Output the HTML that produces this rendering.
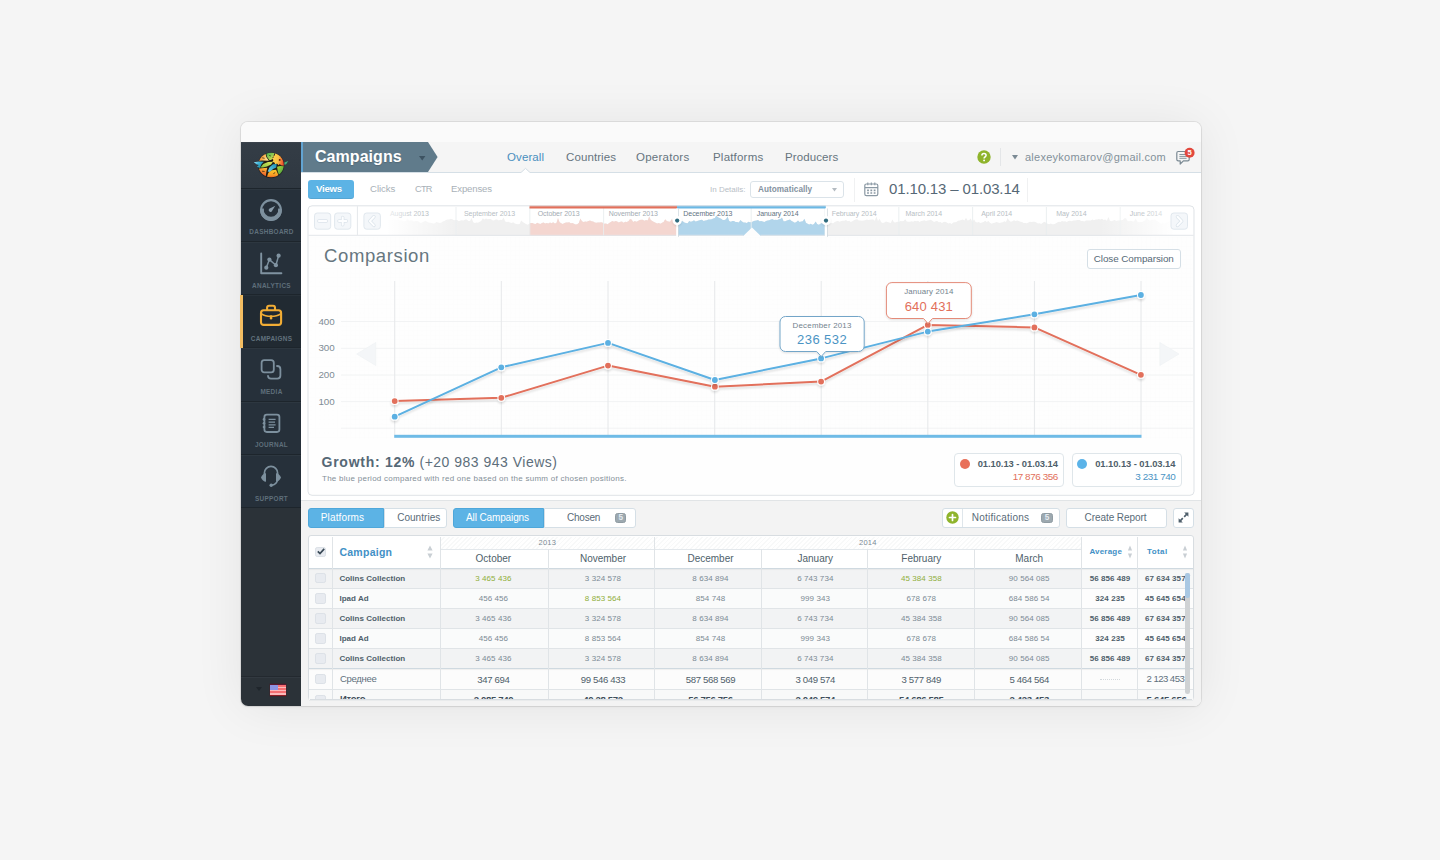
<!DOCTYPE html>
<html>
<head>
<meta charset="utf-8">
<style>
*{box-sizing:border-box;margin:0;padding:0}
html,body{width:1440px;height:860px;overflow:hidden}
body{font-family:"Liberation Sans",sans-serif;background:#f5f5f5;position:relative;color:#5a6b78}
svg{display:block;overflow:visible}
#win{position:absolute;left:241px;top:122px;width:960px;height:584px;background:#fff;border-radius:7px;overflow:hidden;box-shadow:0 0 0 1px rgba(0,0,0,.075),0 1px 3px rgba(0,0,0,.05),0 2px 50px rgba(0,0,0,.075)}
#pg{position:absolute;left:-241px;top:-122px;width:1440px;height:860px}
#pg *{position:absolute;white-space:nowrap}
#pg svg *{position:static}
#titlebar{left:241px;top:122px;width:960px;height:20px;background:#fafafa}
/* sidebar */
#side{left:241px;top:142px;width:60px;height:564px;background:#2b3238}
.cell{left:241px;width:60px;height:53px;background:#26303a;border-bottom:1px solid #1d252c;box-shadow:inset 0 1px 0 rgba(255,255,255,.035)}
.cell .lbl{left:0;width:60px;top:39px;height:9px;line-height:9px;text-align:center;font-size:6.4px;font-weight:bold;letter-spacing:.32px;color:#5f6f7b;text-indent:1px}
/* header */
#hdr{left:301px;top:142px;width:900px;height:31px;background:#f5f5f5;border-bottom:1px solid #d5dfe6}
.nav{top:150px;height:14px;line-height:14px;font-size:11.5px;letter-spacing:.1px;color:#66747e}
.tab{top:182px;height:14px;line-height:14px;font-size:9.6px;color:#a9b1b8}

</style>
</head>
<body>
<div id="win"><div id="pg">
<div id="titlebar"></div>
<div id="side"></div>
<div class="cell" style="top:142px;height:47px;background:linear-gradient(#343d46,#2f3841)">
  <svg width="44" height="34" viewBox="249 148 44 34" style="left:8px;top:6px">
<defs>
<linearGradient id="g1" x1="0" y1="0" x2="1" y2=".3"><stop offset=".12" stop-color="#ee4a2a"/><stop offset=".5" stop-color="#f89a36"/><stop offset="1" stop-color="#fde28f"/></linearGradient>
<linearGradient id="g2" x1="0" y1="0" x2=".8" y2="1"><stop offset="0" stop-color="#27a552"/><stop offset="1" stop-color="#dfe451"/></linearGradient>
<linearGradient id="g3" x1="0" y1="0" x2="1" y2=".2"><stop offset="0" stop-color="#fdd951"/><stop offset=".55" stop-color="#fbc142"/><stop offset="1" stop-color="#ea4a30"/></linearGradient>
<linearGradient id="g4" x1="0" y1="0" x2="1" y2=".6"><stop offset="0" stop-color="#9fe2f8"/><stop offset=".45" stop-color="#43b8dc"/><stop offset="1" stop-color="#178497"/></linearGradient>
<linearGradient id="g5" x1="0" y1="1" x2="1" y2="0"><stop offset="0" stop-color="#7fc242"/><stop offset="1" stop-color="#e6e85c"/></linearGradient>
<linearGradient id="g6" x1="0" y1="1" x2="1" y2="0"><stop offset="0" stop-color="#6fd3ee"/><stop offset="1" stop-color="#1a8db3"/></linearGradient>
<linearGradient id="g7" x1=".6" y1="0" x2=".2" y2="1"><stop offset="0" stop-color="#fbb434"/><stop offset="1" stop-color="#e6412a"/></linearGradient>
<linearGradient id="g8" x1=".5" y1="0" x2=".5" y2="1"><stop offset="0" stop-color="#fdcf2c"/><stop offset=".6" stop-color="#f79a25"/><stop offset="1" stop-color="#d9351f"/></linearGradient>
<linearGradient id="g9" x1="0" y1="0" x2="1" y2="1"><stop offset="0" stop-color="#bcd833"/><stop offset="1" stop-color="#27964a"/></linearGradient>
<clipPath id="ov"><ellipse cx="271.1" cy="165" rx="12.7" ry="12.2"/></clipPath>
</defs>
<ellipse cx="271.1" cy="165.4" rx="13.2" ry="12.8" fill="#1b1a17" fill-opacity=".55"/><ellipse cx="271.1" cy="165.1" rx="12.9" ry="12.4" fill="#201c14"/>
<g clip-path="url(#ov)">
<path d="M257 161 L257.5 157 L260 153.5 L265 151.8 L265.5 153.5 L266.3 157 L268.9 160.8 L262 160.6Z" fill="url(#g1)"/>
<path d="M265.9 152 L270 151.4 L275 152.4 L273.3 156 L271.6 159.8 L269.6 160.3 L267.1 157Z" fill="url(#g2)"/>
<path d="M275 152.3 L279 153.4 L283 156 L285 160 L285 166 L283.6 165.7 L281 165.3 L279.8 163.9 L278.6 165.3 L277 163.6 L275.4 164.5 L274.4 162.4 L272.4 161.8 L273.5 160 L271.9 158.6 L273.7 157.6 L273.1 155.8 L274.9 155.6Z" fill="url(#g3)"/>
<path d="M260.4 167.6 L263.3 163.9 L268 162 L272.9 161.7 L271.1 164.5 L267 166.5 L263 167.6Z" fill="url(#g5)"/>
<path d="M267.7 171.6 L269.5 167.3 L273 164.3 L276.7 163.9 L276.3 167.6 L273 169.1 L270 172Z" fill="url(#g6)"/>
<path d="M257 168.8 L262 168.3 L267.3 167.7 L266.5 171 L265.7 176.5 L261 176 L257.5 172Z" fill="url(#g7)"/>
<path d="M266.7 177.5 L268.4 172.7 L272 170.3 L276.1 169.7 L277.3 172.5 L278.6 175.6 L276 178.5 L270 179Z" fill="url(#g8)"/>
<path d="M277.1 166.7 L280 165.9 L284.5 166.4 L284 171 L281 174.6 L278.7 174.3 L277.7 171Z" fill="url(#g9)"/>
</g>
<path d="M253.9 162.2 L259 161.4 L263.9 161.8 L261.6 164.1 L259.9 167.9 L257 166.8 L258.8 164.9 L256.4 164.2Z" fill="url(#g4)"/>
<path d="M284.4 162.5 L288.3 160.9 L286.1 164.2 L284.5 164.7Z" fill="#43b07c"/>
<circle cx="279.7" cy="159.9" r=".95" fill="#5a1e0a"/>
<path d="M262.2 157.8l2.4.5 M262 171.2l2.6.3 M273.4 173.6l1.8-1 M269.2 155.4l1.6.6" stroke="#201c14" stroke-width=".7"/>
</svg>
</div>
<div class="cell" style="top:189px">
  <svg width="24" height="24" viewBox="0 0 24 24" style="left:18.2px;top:9.2px">
    <circle cx="12" cy="12" r="9.8" fill="none" stroke="#7d909e" stroke-width="2.2"/>
    <path d="M1.15 11 A10.9 10.9 0 1 0 22.85 11 L19.1 10.4 A7.2 7.2 0 1 1 4.9 10.4Z" fill="#7d909e"/>
    <path d="M16.3 7.7 L12.72 13.43 A1.8 1.8 0 1 1 10.28 10.77Z" fill="#8a9caa"/>
  </svg>
  <div class="lbl" style="top:38px">DASHBOARD</div>
</div>
<div class="cell" style="top:242px">
  <svg width="24" height="24" viewBox="0 0 24 24" style="left:18px;top:9.5px">
    <path d="M2.2 1.5 V21.2 H22.4" fill="none" stroke="#8093a1" stroke-width="1.9" stroke-linecap="round" stroke-linejoin="round"/>
    <path d="M7.3 15.7 L10.4 7.6 L16.9 13.2 L19.6 3.7" fill="none" stroke="#7d909e" stroke-width="1.5"/>
    <circle cx="7.3" cy="15.7" r="2.1" fill="#8093a1"/><circle cx="10.4" cy="7.6" r="2.1" fill="#8093a1"/><circle cx="16.9" cy="13.2" r="2.1" fill="#8093a1"/><circle cx="19.6" cy="3.7" r="2.1" fill="#8093a1"/>
  </svg>
  <div class="lbl">ANALYTICS</div>
</div>
<div class="cell" style="top:295px;background:#212a32">
  <svg width="24" height="23" viewBox="0 0 24 23" style="left:18px;top:9px">
    <rect x="2" y="6.3" width="20.1" height="14.6" rx="2.6" fill="none" stroke="#f2ad35" stroke-width="2.1"/>
    <path d="M8.1 6.2 V3.8 Q8.1 1.8 10.1 1.8 H14 Q16 1.8 16 3.8 V6.2" fill="none" stroke="#f2ad35" stroke-width="2.1"/>
    <path d="M2.6 9.8 C7 13.2 17 13.2 21.6 9.8" fill="none" stroke="#f2ad35" stroke-width="1.5"/>
    <rect x="10.8" y="11.2" width="2.5" height="4.2" rx="1.2" fill="#f2ad35"/>
  </svg>
  <div class="lbl" style="color:#62727e">CAMPAIGNS</div>
</div>
<div class="cell" style="top:348px;height:54px">
  <svg width="24" height="24" viewBox="0 0 24 24" style="left:18px;top:9px">
    <rect x="2.6" y="3.2" width="12.2" height="12.2" rx="2.6" fill="none" stroke="#7d909e" stroke-width="1.8"/>
    <path d="M18 9 Q21.4 9 21.4 12.2 V18.6 Q21.4 21.6 18.4 21.6 H12 Q9 21.6 9 18.8" fill="none" stroke="#7d909e" stroke-width="1.8" stroke-linecap="round"/>
  </svg>
  <div class="lbl" style="top:39px">MEDIA</div>
</div>
<div class="cell" style="top:402px">
  <svg width="24" height="24" viewBox="0 0 24 24" style="left:18px;top:9px">
    <rect x="5.4" y="3.6" width="15" height="17.4" rx="2.4" fill="none" stroke="#7d909e" stroke-width="1.8"/>
    <path d="M9.6 8.4 H16.6 M9.6 11.2 H16 M9.6 13.8 H16.6 M9.6 16.4 H15" stroke="#7d909e" stroke-width="1.2"/>
    <circle cx="5" cy="8.4" r="1.3" fill="#7d909e"/><circle cx="5" cy="12.2" r="1.3" fill="#7d909e"/><circle cx="5" cy="16" r="1.3" fill="#7d909e"/>
  </svg>
  <div class="lbl" style="top:38px">JOURNAL</div>
</div>
<div class="cell" style="top:455px">
  <svg width="24" height="26" viewBox="0 0 24 26" style="left:18px;top:8px">
    <path d="M5.4 12.6 V10 A6.6 6.6 0 0 1 18.6 10 V12.6" fill="none" stroke="#7d909e" stroke-width="1.7"/>
    <path d="M7 10.2 V18.8 Q3.6 18.6 2 14.5 Q3.6 10.4 7 10.2Z" fill="#7d909e"/>
    <path d="M17 10.2 V18.8 Q20.4 18.6 22 14.5 Q20.4 10.4 17 10.2Z" fill="#7d909e"/>
    <path d="M18.4 17.5 Q17.4 21.6 12.6 22.2" fill="none" stroke="#7d909e" stroke-width="1.4"/>
    <circle cx="12.2" cy="22.2" r="1.7" fill="#7d909e"/>
  </svg>
  <div class="lbl">SUPPORT</div>
</div>
<div style="left:241px;top:676px;width:60px;height:1px;background:#23292f"></div>
<div style="left:241px;top:677px;width:60px;height:1px;background:#323940"></div>
<svg width="6" height="4" viewBox="0 0 6 4" style="left:256px;top:687px"><path d="M0 0H6L3 4Z" fill="#1f252b"/></svg>
<div style="left:270px;top:684px;width:16.4px;height:12px;background:repeating-linear-gradient(#f56f72 0,#f56f72 1.6px,#fbb9b9 1.6px,#fbb9b9 3.2px);border-top:1px solid #5b1830;border-bottom:1px solid #8c1d24;box-shadow:0 0 0 .4px rgba(90,16,24,.6)">
  <div style="left:0;top:0;width:7.6px;height:5px;background:#8d93e2"></div>
</div>

<div id="hdr"></div>
<svg width="140" height="30" viewBox="0 0 140 30" style="left:301px;top:142px">
  <path d="M0 0 H127 L136.6 15 L127 30 H0Z" fill="#607b8b"/>
  <rect x="0" y="0" width="2" height="30" fill="#62a4d2"/>
  <path d="M118 14 H124.4 L121.2 18.4Z" fill="#3d5362"/>
</svg>
<div style="left:315px;top:147px;height:20px;line-height:20px;font-size:16px;font-weight:bold;color:#fff;letter-spacing:.05px;text-shadow:0 1px 1px rgba(0,0,0,.15)">Campaigns</div>
<div class="nav" style="left:507px;color:#4a8fbe">Overall</div>
<div class="nav" style="left:566px">Countries</div>
<div class="nav" style="left:636px;letter-spacing:.25px">Operators</div>
<div class="nav" style="left:713px;letter-spacing:.2px">Platforms</div>
<div class="nav" style="left:785px">Producers</div>
<svg width="9" height="5" viewBox="0 0 9 5" style="left:520.5px;top:168px"><path d="M0 4.5 L4.5 .4 L9 4.5" fill="#fff" stroke="#d4dee5" stroke-width="1"/><rect x="0.6" y="4.1" width="7.8" height="1.2" fill="#fff"/></svg>
<!-- help -->
<svg width="14" height="14" viewBox="0 0 14 14" style="left:976.6px;top:150px"><circle cx="7" cy="7" r="6.7" fill="#8fb42c"/><path d="M4.9 5.6 Q4.9 3.5 7 3.5 Q9.1 3.5 9.1 5.3 Q9.1 6.4 8 7 Q7.1 7.5 7.1 8.5" fill="none" stroke="#fff" stroke-width="1.5"/><circle cx="7.1" cy="10.4" r=".95" fill="#fff"/></svg>
<div style="left:1000px;top:148px;width:1px;height:18px;background:#e4e6e8"></div>
<svg width="6" height="5" viewBox="0 0 6 5" style="left:1012px;top:155px"><path d="M0 0H6L3 4.6Z" fill="#7b8a94"/></svg>
<div class="nav" style="left:1025px;color:#83919a;letter-spacing:.25px;font-size:11px">alexeykomarov@gmail.com</div>
<svg width="16" height="16" viewBox="0 0 16 16" style="left:1176px;top:150px">
  <path d="M2.2 1.5 H11.8 Q13.2 1.5 13.2 2.9 V9.4 Q13.2 10.8 11.8 10.8 H7.4 L4.2 14 V10.8 H2.2 Q.8 10.8 .8 9.4 V2.9 Q.8 1.5 2.2 1.5Z" fill="none" stroke="#7b8a94" stroke-width="1.2" stroke-linejoin="round"/>
  <path d="M3.4 4.5 H10.6 M3.4 6.4 H10.6 M3.4 8.3 H10.6" stroke="#7b8a94" stroke-width=".9"/>
  <circle cx="13.6" cy="2.8" r="5" fill="#e2483d"/>
</svg>
<div style="left:1184.6px;top:148.9px;width:10px;height:8px;line-height:8px;text-align:center;font-size:7.6px;font-weight:bold;color:#fff">5</div>

<div style="left:308px;top:180px;width:46px;height:19px;border-radius:3px;background:#5cb3e5;box-shadow:inset 0 -1px 0 rgba(0,0,0,.08)"></div>
<div class="tab" style="left:316px;color:#fff;font-weight:bold;letter-spacing:-.25px;text-shadow:0 1px 0 rgba(0,0,0,.1)">Views</div>
<div class="tab" style="left:370px;letter-spacing:-.05px">Clicks</div>
<div class="tab" style="left:415px;font-size:9.2px;letter-spacing:-.75px">CTR</div>
<div class="tab" style="left:451px;letter-spacing:-.15px">Expenses</div>
<div style="left:710px;top:184px;height:12px;line-height:12px;font-size:8px;color:#b9c0c6">In Details:</div>
<div style="left:750px;top:181px;width:94px;height:17px;border:1px solid #dbe3e9;border-radius:3px;background:#fff"></div>
<div style="left:758px;top:184px;height:12px;line-height:12px;font-size:8.2px;font-weight:bold;color:#8492a0;letter-spacing:.04px">Automatically</div>
<svg width="5" height="4" viewBox="0 0 5 4" style="left:832px;top:188px"><path d="M0 0H5L2.5 3.6Z" fill="#b4bbc1"/></svg>
<div style="left:854px;top:178px;width:1px;height:24px;background:#f0f1f2"></div>
<div style="left:1027px;top:178px;width:1px;height:24px;background:#f0f1f2"></div>
<svg width="15" height="15" viewBox="0 0 15 15" style="left:864px;top:182px">
  <rect x=".8" y="2" width="13" height="11.6" rx="1.6" fill="none" stroke="#8a98a3" stroke-width="1.2"/>
  <path d="M1 5.6 H14" stroke="#8a98a3" stroke-width="1.1"/>
  <path d="M3.8 .4 V3.2 M7.3 .4 V3.2 M10.8 .4 V3.2" stroke="#8a98a3" stroke-width="1.1"/>
  <path d="M3.1 7.6h1.8v1.6h-1.8z M6.4 7.6h1.8v1.6h-1.8z M9.7 7.6h1.8v1.6h-1.8z M3.1 10.2h1.8v1.6h-1.8z M6.4 10.2h1.8v1.6h-1.8z M9.7 10.2h1.8v1.6h-1.8z" fill="#8a98a3"/>
</svg>
<div style="left:889px;top:179px;height:20px;line-height:20px;font-size:15px;color:#566876;letter-spacing:-.14px">01.10.13 – 01.03.14</div>

<div id="panel" style="left:308px;top:206px;width:886px;height:289px;background:#fefefe;border-radius:4px"></div>
<svg width="1440" height="860" viewBox="0 0 1440 860" style="left:0;top:0">
<defs>
<pattern id="grid" x="341.6" y="281.5" width="4.443" height="4.443" patternUnits="userSpaceOnUse"><path d="M0 0H4.443M0 0V4.443" fill="none" stroke="#000" stroke-opacity=".013" stroke-width=".7"/></pattern>
<linearGradient id="fadeL" x1="0" x2="1" y1="0" y2="0"><stop offset="0" stop-color="#fff" stop-opacity="1"/><stop offset=".08" stop-color="#fff" stop-opacity="1"/><stop offset="1" stop-color="#fff" stop-opacity="0"/></linearGradient>
<linearGradient id="fadeR" x1="0" x2="1" y1="0" y2="0"><stop offset="0" stop-color="#fff" stop-opacity="0"/><stop offset=".8" stop-color="#fff" stop-opacity="1"/><stop offset="1" stop-color="#fff" stop-opacity="1"/></linearGradient>
<filter id="ls" x="-5%" y="-20%" width="110%" height="150%"><feGaussianBlur in="SourceAlpha" stdDeviation="1"/><feOffset dy="2.2"/><feComponentTransfer><feFuncA type="linear" slope=".13"/></feComponentTransfer><feMerge><feMergeNode/><feMergeNode in="SourceGraphic"/></feMerge></filter>
<filter id="ts" x="-10%" y="-10%" width="120%" height="140%"><feGaussianBlur in="SourceAlpha" stdDeviation="1.2"/><feOffset dy="1"/><feComponentTransfer><feFuncA type="linear" slope=".12"/></feComponentTransfer><feMerge><feMergeNode/><feMergeNode in="SourceGraphic"/></feMerge></filter>
<clipPath id="cpRed"><rect x="529.5" y="206" width="147.5" height="30"/></clipPath>
<clipPath id="cpBlue"><rect x="677" y="206" width="148.5" height="30"/></clipPath>
<clipPath id="cpTl"><rect x="309" y="207" width="884" height="29"/></clipPath>
</defs>
<rect x="309" y="207" width="884" height="29" fill="#fff"/>
<g clip-path="url(#cpTl)">
<path d="M382 236 L382.0 220.7 L383.6 221.2 L385.2 221.4 L386.8 220.5 L388.4 219.6 L390.0 218.9 L391.6 219.1 L393.2 218.6 L394.8 219.3 L396.4 219.8 L398.0 217.5 L399.6 220.8 L401.2 220.0 L402.8 221.0 L404.4 221.3 L406.0 221.1 L407.6 218.2 L409.2 220.8 L410.8 220.5 L412.4 220.6 L414.0 221.5 L415.6 220.9 L417.2 221.1 L418.8 221.7 L420.4 222.9 L422.0 222.6 L423.6 221.7 L425.2 220.7 L426.8 221.5 L428.4 222.4 L430.0 222.8 L431.6 222.9 L433.2 223.5 L434.8 223.3 L436.4 222.1 L438.0 222.5 L439.6 223.1 L441.2 222.7 L442.8 221.6 L444.4 220.9 L446.0 220.0 L447.6 219.4 L449.2 219.4 L450.8 218.8 L452.4 219.3 L454.0 220.3 L455.6 220.0 L457.2 219.9 L458.8 221.2 L460.4 220.6 L462.0 220.2 L463.6 220.6 L465.2 219.6 L466.8 219.6 L468.4 220.9 L470.0 221.1 L471.6 217.9 L473.2 222.3 L474.8 222.9 L476.4 222.6 L478.0 222.8 L479.6 221.7 L481.2 221.0 L482.8 218.2 L484.4 219.4 L486.0 218.6 L487.6 219.3 L489.2 219.1 L490.8 219.1 L492.4 220.2 L494.0 220.4 L495.6 219.6 L497.2 219.6 L498.8 220.6 L500.4 219.7 L502.0 220.0 L503.6 217.5 L505.2 221.6 L506.8 222.1 L508.4 221.8 L510.0 222.5 L511.6 223.0 L513.2 222.3 L514.8 223.4 L516.4 223.9 L518.0 224.2 L519.6 224.0 L521.2 220.5 L522.8 222.0 L524.4 223.1 L526.0 224.0 L527.6 224.8 L529.2 223.8 L530.8 222.9 L532.4 223.1 L534.0 223.7 L535.6 223.9 L537.2 222.7 L538.8 223.5 L540.4 223.9 L542.0 223.0 L543.6 222.5 L545.2 223.5 L546.8 223.1 L548.4 223.5 L550.0 222.4 L551.6 223.3 L553.2 222.3 L554.8 223.4 L556.4 222.9 L558.0 218.0 L559.6 222.3 L561.2 223.2 L562.8 223.9 L564.4 223.1 L566.0 222.5 L567.6 222.6 L569.2 222.3 L570.8 223.2 L572.4 223.0 L574.0 223.8 L575.6 224.5 L577.2 224.3 L578.8 222.9 L580.4 218.6 L582.0 221.3 L583.6 221.9 L585.2 221.5 L586.8 221.7 L588.4 220.9 L590.0 220.4 L591.6 221.2 L593.2 221.5 L594.8 222.5 L596.4 222.7 L598.0 222.6 L599.6 222.4 L601.2 222.3 L602.8 222.7 L604.4 223.7 L606.0 223.6 L607.6 224.2 L609.2 223.1 L610.8 222.0 L612.4 221.0 L614.0 221.8 L615.6 221.0 L617.2 221.5 L618.8 222.4 L620.4 221.7 L622.0 221.5 L623.6 222.7 L625.2 221.8 L626.8 221.9 L628.4 221.2 L630.0 218.9 L631.6 219.4 L633.2 222.0 L634.8 221.0 L636.4 221.8 L638.0 220.9 L639.6 220.0 L641.2 219.7 L642.8 219.8 L644.4 220.8 L646.0 220.1 L647.6 220.5 L649.2 216.5 L650.8 219.9 L652.4 221.1 L654.0 221.9 L655.6 222.7 L657.2 223.5 L658.8 222.9 L660.4 223.8 L662.0 222.7 L663.6 222.0 L665.2 219.3 L666.8 220.9 L668.4 221.6 L670.0 221.7 L671.6 219.3 L673.2 220.3 L674.8 220.7 L676.4 220.8 L678.0 220.0 L679.6 220.1 L681.2 221.1 L682.8 221.2 L684.4 222.4 L686.0 223.1 L687.6 223.3 L689.2 221.0 L690.8 221.7 L692.4 221.2 L694.0 220.3 L695.6 221.4 L697.2 221.0 L698.8 220.6 L700.4 220.0 L702.0 219.7 L703.6 221.1 L705.2 220.6 L706.8 220.3 L708.4 219.4 L710.0 219.6 L711.6 219.2 L713.2 218.4 L714.8 217.9 L716.4 215.5 L718.0 217.3 L719.6 217.9 L721.2 218.8 L722.8 220.0 L724.4 219.9 L726.0 219.3 L727.6 216.4 L729.2 221.1 L730.8 221.8 L732.4 221.0 L734.0 221.1 L735.6 221.9 L737.2 222.1 L738.8 222.5 L740.4 220.0 L742.0 221.5 L743.6 222.4 L745.2 222.6 L746.8 222.9 L748.4 221.7 L750.0 222.3 L751.6 222.3 L753.2 221.3 L754.8 220.8 L756.4 220.4 L758.0 219.9 L759.6 221.3 L761.2 221.1 L762.8 221.6 L764.4 221.9 L766.0 221.0 L767.6 220.5 L769.2 220.3 L770.8 219.4 L772.4 219.1 L774.0 219.9 L775.6 219.7 L777.2 219.9 L778.8 219.3 L780.4 218.9 L782.0 217.6 L783.6 221.2 L785.2 221.2 L786.8 220.6 L788.4 220.1 L790.0 219.5 L791.6 220.9 L793.2 221.7 L794.8 222.7 L796.4 222.0 L798.0 220.4 L799.6 221.9 L801.2 221.5 L802.8 221.2 L804.4 218.7 L806.0 222.8 L807.6 223.7 L809.2 224.4 L810.8 223.8 L812.4 224.8 L814.0 224.1 L815.6 221.6 L817.2 223.9 L818.8 224.7 L820.4 223.8 L822.0 222.9 L823.6 223.9 L825.2 224.3 L826.8 225.0 L828.4 224.8 L830.0 223.4 L831.6 223.1 L833.2 223.3 L834.8 222.1 L836.4 221.3 L838.0 221.0 L839.6 221.7 L841.2 221.1 L842.8 220.8 L844.4 220.7 L846.0 220.1 L847.6 221.2 L849.2 220.7 L850.8 222.0 L852.4 221.2 L854.0 220.3 L855.6 219.6 L857.2 219.3 L858.8 220.5 L860.4 220.5 L862.0 220.7 L863.6 220.5 L865.2 220.2 L866.8 219.6 L868.4 220.1 L870.0 219.7 L871.6 219.4 L873.2 219.6 L874.8 220.7 L876.4 216.5 L878.0 220.9 L879.6 218.8 L881.2 222.3 L882.8 223.1 L884.4 222.4 L886.0 221.6 L887.6 222.0 L889.2 222.5 L890.8 223.1 L892.4 219.6 L894.0 222.3 L895.6 222.6 L897.2 221.7 L898.8 222.0 L900.4 221.1 L902.0 221.3 L903.6 221.1 L905.2 219.2 L906.8 221.4 L908.4 221.8 L910.0 221.8 L911.6 221.2 L913.2 221.8 L914.8 220.7 L916.4 221.3 L918.0 220.8 L919.6 221.9 L921.2 220.9 L922.8 220.8 L924.4 220.3 L926.0 221.0 L927.6 220.5 L929.2 220.2 L930.8 219.8 L932.4 220.7 L934.0 221.9 L935.6 221.2 L937.2 221.1 L938.8 222.2 L940.4 221.9 L942.0 223.0 L943.6 221.9 L945.2 221.7 L946.8 222.6 L948.4 223.6 L950.0 223.1 L951.6 223.9 L953.2 222.6 L954.8 222.3 L956.4 221.9 L958.0 220.7 L959.6 220.5 L961.2 219.9 L962.8 219.4 L964.4 220.5 L966.0 217.8 L967.6 220.4 L969.2 219.9 L970.8 218.5 L972.4 221.9 L974.0 219.2 L975.6 221.9 L977.2 222.5 L978.8 222.1 L980.4 223.1 L982.0 222.4 L983.6 222.0 L985.2 220.8 L986.8 221.9 L988.4 220.9 L990.0 222.8 L991.6 223.7 L993.2 223.0 L994.8 222.8 L996.4 222.0 L998.0 222.5 L999.6 223.1 L1001.2 222.6 L1002.8 222.2 L1004.4 221.2 L1006.0 221.9 L1007.6 218.0 L1009.2 220.6 L1010.8 221.7 L1012.4 221.2 L1014.0 220.3 L1015.6 221.0 L1017.2 220.5 L1018.8 221.0 L1020.4 221.7 L1022.0 222.1 L1023.6 222.9 L1025.2 222.9 L1026.8 223.3 L1028.4 222.6 L1030.0 221.7 L1031.6 222.0 L1033.2 221.7 L1034.8 221.8 L1036.4 222.5 L1038.0 223.6 L1039.6 223.3 L1041.2 223.9 L1042.8 222.7 L1044.4 221.7 L1046.0 222.8 L1047.6 223.7 L1049.2 224.3 L1050.8 223.5 L1052.4 224.3 L1054.0 224.3 L1055.6 223.4 L1057.2 222.4 L1058.8 221.8 L1060.4 222.1 L1062.0 221.0 L1063.6 221.5 L1065.2 221.2 L1066.8 221.9 L1068.4 220.9 L1070.0 220.8 L1071.6 221.3 L1073.2 220.6 L1074.8 220.6 L1076.4 220.3 L1078.0 220.1 L1079.6 220.0 L1081.2 221.1 L1082.8 220.9 L1084.4 221.5 L1086.0 220.4 L1087.6 220.5 L1089.2 220.4 L1090.8 220.5 L1092.4 219.6 L1094.0 220.2 L1095.6 219.5 L1097.2 219.5 L1098.8 219.0 L1100.4 219.4 L1102.0 218.8 L1103.6 219.9 L1105.2 219.4 L1106.8 220.8 L1108.4 217.1 L1110.0 220.8 L1111.6 221.2 L1113.2 220.5 L1114.8 220.0 L1116.4 221.1 L1118.0 220.5 L1119.6 220.4 L1121.2 220.3 L1122.8 220.0 L1124.4 218.2 L1126.0 218.2 L1127.6 221.0 L1129.2 221.2 L1130.8 220.8 L1132.4 221.2 L1134.0 221.6 L1135.6 218.5 L1137.2 221.6 L1138.8 222.2 L1140.4 222.1 L1142.0 222.0 L1143.6 221.2 L1145.2 220.3 L1146.8 217.5 L1148.4 219.8 L1150.0 220.7 L1151.6 219.8 L1153.2 219.8 L1154.8 219.2 L1156.4 220.7 L1158.0 221.6 L1159.6 222.7 L1161.2 223.7 L1162.8 222.7 L1164.4 223.6 L1166.0 223.1 L1167.6 222.2 L1169.2 221.6 L1170.8 220.9 L1172.4 222.0 L1174.0 221.4 L1175.6 219.1 L1177.2 220.4 L1178.8 221.0 L1180.4 220.4 L1182.0 219.7 L1183.6 220.3 L1185.2 221.3 L1186.8 221.6 L1188.4 220.7 L1190.0 221.2 L1191.6 222.0 L1193.2 223.1 L1193 236Z" fill="#f0f0f0"/>
<path d="M382 236 L382.0 220.7 L383.6 221.2 L385.2 221.4 L386.8 220.5 L388.4 219.6 L390.0 218.9 L391.6 219.1 L393.2 218.6 L394.8 219.3 L396.4 219.8 L398.0 217.5 L399.6 220.8 L401.2 220.0 L402.8 221.0 L404.4 221.3 L406.0 221.1 L407.6 218.2 L409.2 220.8 L410.8 220.5 L412.4 220.6 L414.0 221.5 L415.6 220.9 L417.2 221.1 L418.8 221.7 L420.4 222.9 L422.0 222.6 L423.6 221.7 L425.2 220.7 L426.8 221.5 L428.4 222.4 L430.0 222.8 L431.6 222.9 L433.2 223.5 L434.8 223.3 L436.4 222.1 L438.0 222.5 L439.6 223.1 L441.2 222.7 L442.8 221.6 L444.4 220.9 L446.0 220.0 L447.6 219.4 L449.2 219.4 L450.8 218.8 L452.4 219.3 L454.0 220.3 L455.6 220.0 L457.2 219.9 L458.8 221.2 L460.4 220.6 L462.0 220.2 L463.6 220.6 L465.2 219.6 L466.8 219.6 L468.4 220.9 L470.0 221.1 L471.6 217.9 L473.2 222.3 L474.8 222.9 L476.4 222.6 L478.0 222.8 L479.6 221.7 L481.2 221.0 L482.8 218.2 L484.4 219.4 L486.0 218.6 L487.6 219.3 L489.2 219.1 L490.8 219.1 L492.4 220.2 L494.0 220.4 L495.6 219.6 L497.2 219.6 L498.8 220.6 L500.4 219.7 L502.0 220.0 L503.6 217.5 L505.2 221.6 L506.8 222.1 L508.4 221.8 L510.0 222.5 L511.6 223.0 L513.2 222.3 L514.8 223.4 L516.4 223.9 L518.0 224.2 L519.6 224.0 L521.2 220.5 L522.8 222.0 L524.4 223.1 L526.0 224.0 L527.6 224.8 L529.2 223.8 L530.8 222.9 L532.4 223.1 L534.0 223.7 L535.6 223.9 L537.2 222.7 L538.8 223.5 L540.4 223.9 L542.0 223.0 L543.6 222.5 L545.2 223.5 L546.8 223.1 L548.4 223.5 L550.0 222.4 L551.6 223.3 L553.2 222.3 L554.8 223.4 L556.4 222.9 L558.0 218.0 L559.6 222.3 L561.2 223.2 L562.8 223.9 L564.4 223.1 L566.0 222.5 L567.6 222.6 L569.2 222.3 L570.8 223.2 L572.4 223.0 L574.0 223.8 L575.6 224.5 L577.2 224.3 L578.8 222.9 L580.4 218.6 L582.0 221.3 L583.6 221.9 L585.2 221.5 L586.8 221.7 L588.4 220.9 L590.0 220.4 L591.6 221.2 L593.2 221.5 L594.8 222.5 L596.4 222.7 L598.0 222.6 L599.6 222.4 L601.2 222.3 L602.8 222.7 L604.4 223.7 L606.0 223.6 L607.6 224.2 L609.2 223.1 L610.8 222.0 L612.4 221.0 L614.0 221.8 L615.6 221.0 L617.2 221.5 L618.8 222.4 L620.4 221.7 L622.0 221.5 L623.6 222.7 L625.2 221.8 L626.8 221.9 L628.4 221.2 L630.0 218.9 L631.6 219.4 L633.2 222.0 L634.8 221.0 L636.4 221.8 L638.0 220.9 L639.6 220.0 L641.2 219.7 L642.8 219.8 L644.4 220.8 L646.0 220.1 L647.6 220.5 L649.2 216.5 L650.8 219.9 L652.4 221.1 L654.0 221.9 L655.6 222.7 L657.2 223.5 L658.8 222.9 L660.4 223.8 L662.0 222.7 L663.6 222.0 L665.2 219.3 L666.8 220.9 L668.4 221.6 L670.0 221.7 L671.6 219.3 L673.2 220.3 L674.8 220.7 L676.4 220.8 L678.0 220.0 L679.6 220.1 L681.2 221.1 L682.8 221.2 L684.4 222.4 L686.0 223.1 L687.6 223.3 L689.2 221.0 L690.8 221.7 L692.4 221.2 L694.0 220.3 L695.6 221.4 L697.2 221.0 L698.8 220.6 L700.4 220.0 L702.0 219.7 L703.6 221.1 L705.2 220.6 L706.8 220.3 L708.4 219.4 L710.0 219.6 L711.6 219.2 L713.2 218.4 L714.8 217.9 L716.4 215.5 L718.0 217.3 L719.6 217.9 L721.2 218.8 L722.8 220.0 L724.4 219.9 L726.0 219.3 L727.6 216.4 L729.2 221.1 L730.8 221.8 L732.4 221.0 L734.0 221.1 L735.6 221.9 L737.2 222.1 L738.8 222.5 L740.4 220.0 L742.0 221.5 L743.6 222.4 L745.2 222.6 L746.8 222.9 L748.4 221.7 L750.0 222.3 L751.6 222.3 L753.2 221.3 L754.8 220.8 L756.4 220.4 L758.0 219.9 L759.6 221.3 L761.2 221.1 L762.8 221.6 L764.4 221.9 L766.0 221.0 L767.6 220.5 L769.2 220.3 L770.8 219.4 L772.4 219.1 L774.0 219.9 L775.6 219.7 L777.2 219.9 L778.8 219.3 L780.4 218.9 L782.0 217.6 L783.6 221.2 L785.2 221.2 L786.8 220.6 L788.4 220.1 L790.0 219.5 L791.6 220.9 L793.2 221.7 L794.8 222.7 L796.4 222.0 L798.0 220.4 L799.6 221.9 L801.2 221.5 L802.8 221.2 L804.4 218.7 L806.0 222.8 L807.6 223.7 L809.2 224.4 L810.8 223.8 L812.4 224.8 L814.0 224.1 L815.6 221.6 L817.2 223.9 L818.8 224.7 L820.4 223.8 L822.0 222.9 L823.6 223.9 L825.2 224.3 L826.8 225.0 L828.4 224.8 L830.0 223.4 L831.6 223.1 L833.2 223.3 L834.8 222.1 L836.4 221.3 L838.0 221.0 L839.6 221.7 L841.2 221.1 L842.8 220.8 L844.4 220.7 L846.0 220.1 L847.6 221.2 L849.2 220.7 L850.8 222.0 L852.4 221.2 L854.0 220.3 L855.6 219.6 L857.2 219.3 L858.8 220.5 L860.4 220.5 L862.0 220.7 L863.6 220.5 L865.2 220.2 L866.8 219.6 L868.4 220.1 L870.0 219.7 L871.6 219.4 L873.2 219.6 L874.8 220.7 L876.4 216.5 L878.0 220.9 L879.6 218.8 L881.2 222.3 L882.8 223.1 L884.4 222.4 L886.0 221.6 L887.6 222.0 L889.2 222.5 L890.8 223.1 L892.4 219.6 L894.0 222.3 L895.6 222.6 L897.2 221.7 L898.8 222.0 L900.4 221.1 L902.0 221.3 L903.6 221.1 L905.2 219.2 L906.8 221.4 L908.4 221.8 L910.0 221.8 L911.6 221.2 L913.2 221.8 L914.8 220.7 L916.4 221.3 L918.0 220.8 L919.6 221.9 L921.2 220.9 L922.8 220.8 L924.4 220.3 L926.0 221.0 L927.6 220.5 L929.2 220.2 L930.8 219.8 L932.4 220.7 L934.0 221.9 L935.6 221.2 L937.2 221.1 L938.8 222.2 L940.4 221.9 L942.0 223.0 L943.6 221.9 L945.2 221.7 L946.8 222.6 L948.4 223.6 L950.0 223.1 L951.6 223.9 L953.2 222.6 L954.8 222.3 L956.4 221.9 L958.0 220.7 L959.6 220.5 L961.2 219.9 L962.8 219.4 L964.4 220.5 L966.0 217.8 L967.6 220.4 L969.2 219.9 L970.8 218.5 L972.4 221.9 L974.0 219.2 L975.6 221.9 L977.2 222.5 L978.8 222.1 L980.4 223.1 L982.0 222.4 L983.6 222.0 L985.2 220.8 L986.8 221.9 L988.4 220.9 L990.0 222.8 L991.6 223.7 L993.2 223.0 L994.8 222.8 L996.4 222.0 L998.0 222.5 L999.6 223.1 L1001.2 222.6 L1002.8 222.2 L1004.4 221.2 L1006.0 221.9 L1007.6 218.0 L1009.2 220.6 L1010.8 221.7 L1012.4 221.2 L1014.0 220.3 L1015.6 221.0 L1017.2 220.5 L1018.8 221.0 L1020.4 221.7 L1022.0 222.1 L1023.6 222.9 L1025.2 222.9 L1026.8 223.3 L1028.4 222.6 L1030.0 221.7 L1031.6 222.0 L1033.2 221.7 L1034.8 221.8 L1036.4 222.5 L1038.0 223.6 L1039.6 223.3 L1041.2 223.9 L1042.8 222.7 L1044.4 221.7 L1046.0 222.8 L1047.6 223.7 L1049.2 224.3 L1050.8 223.5 L1052.4 224.3 L1054.0 224.3 L1055.6 223.4 L1057.2 222.4 L1058.8 221.8 L1060.4 222.1 L1062.0 221.0 L1063.6 221.5 L1065.2 221.2 L1066.8 221.9 L1068.4 220.9 L1070.0 220.8 L1071.6 221.3 L1073.2 220.6 L1074.8 220.6 L1076.4 220.3 L1078.0 220.1 L1079.6 220.0 L1081.2 221.1 L1082.8 220.9 L1084.4 221.5 L1086.0 220.4 L1087.6 220.5 L1089.2 220.4 L1090.8 220.5 L1092.4 219.6 L1094.0 220.2 L1095.6 219.5 L1097.2 219.5 L1098.8 219.0 L1100.4 219.4 L1102.0 218.8 L1103.6 219.9 L1105.2 219.4 L1106.8 220.8 L1108.4 217.1 L1110.0 220.8 L1111.6 221.2 L1113.2 220.5 L1114.8 220.0 L1116.4 221.1 L1118.0 220.5 L1119.6 220.4 L1121.2 220.3 L1122.8 220.0 L1124.4 218.2 L1126.0 218.2 L1127.6 221.0 L1129.2 221.2 L1130.8 220.8 L1132.4 221.2 L1134.0 221.6 L1135.6 218.5 L1137.2 221.6 L1138.8 222.2 L1140.4 222.1 L1142.0 222.0 L1143.6 221.2 L1145.2 220.3 L1146.8 217.5 L1148.4 219.8 L1150.0 220.7 L1151.6 219.8 L1153.2 219.8 L1154.8 219.2 L1156.4 220.7 L1158.0 221.6 L1159.6 222.7 L1161.2 223.7 L1162.8 222.7 L1164.4 223.6 L1166.0 223.1 L1167.6 222.2 L1169.2 221.6 L1170.8 220.9 L1172.4 222.0 L1174.0 221.4 L1175.6 219.1 L1177.2 220.4 L1178.8 221.0 L1180.4 220.4 L1182.0 219.7 L1183.6 220.3 L1185.2 221.3 L1186.8 221.6 L1188.4 220.7 L1190.0 221.2 L1191.6 222.0 L1193.2 223.1 L1193 236Z" fill="#f4d6d0" clip-path="url(#cpRed)"/>
<path d="M382 236 L382.0 220.7 L383.6 221.2 L385.2 221.4 L386.8 220.5 L388.4 219.6 L390.0 218.9 L391.6 219.1 L393.2 218.6 L394.8 219.3 L396.4 219.8 L398.0 217.5 L399.6 220.8 L401.2 220.0 L402.8 221.0 L404.4 221.3 L406.0 221.1 L407.6 218.2 L409.2 220.8 L410.8 220.5 L412.4 220.6 L414.0 221.5 L415.6 220.9 L417.2 221.1 L418.8 221.7 L420.4 222.9 L422.0 222.6 L423.6 221.7 L425.2 220.7 L426.8 221.5 L428.4 222.4 L430.0 222.8 L431.6 222.9 L433.2 223.5 L434.8 223.3 L436.4 222.1 L438.0 222.5 L439.6 223.1 L441.2 222.7 L442.8 221.6 L444.4 220.9 L446.0 220.0 L447.6 219.4 L449.2 219.4 L450.8 218.8 L452.4 219.3 L454.0 220.3 L455.6 220.0 L457.2 219.9 L458.8 221.2 L460.4 220.6 L462.0 220.2 L463.6 220.6 L465.2 219.6 L466.8 219.6 L468.4 220.9 L470.0 221.1 L471.6 217.9 L473.2 222.3 L474.8 222.9 L476.4 222.6 L478.0 222.8 L479.6 221.7 L481.2 221.0 L482.8 218.2 L484.4 219.4 L486.0 218.6 L487.6 219.3 L489.2 219.1 L490.8 219.1 L492.4 220.2 L494.0 220.4 L495.6 219.6 L497.2 219.6 L498.8 220.6 L500.4 219.7 L502.0 220.0 L503.6 217.5 L505.2 221.6 L506.8 222.1 L508.4 221.8 L510.0 222.5 L511.6 223.0 L513.2 222.3 L514.8 223.4 L516.4 223.9 L518.0 224.2 L519.6 224.0 L521.2 220.5 L522.8 222.0 L524.4 223.1 L526.0 224.0 L527.6 224.8 L529.2 223.8 L530.8 222.9 L532.4 223.1 L534.0 223.7 L535.6 223.9 L537.2 222.7 L538.8 223.5 L540.4 223.9 L542.0 223.0 L543.6 222.5 L545.2 223.5 L546.8 223.1 L548.4 223.5 L550.0 222.4 L551.6 223.3 L553.2 222.3 L554.8 223.4 L556.4 222.9 L558.0 218.0 L559.6 222.3 L561.2 223.2 L562.8 223.9 L564.4 223.1 L566.0 222.5 L567.6 222.6 L569.2 222.3 L570.8 223.2 L572.4 223.0 L574.0 223.8 L575.6 224.5 L577.2 224.3 L578.8 222.9 L580.4 218.6 L582.0 221.3 L583.6 221.9 L585.2 221.5 L586.8 221.7 L588.4 220.9 L590.0 220.4 L591.6 221.2 L593.2 221.5 L594.8 222.5 L596.4 222.7 L598.0 222.6 L599.6 222.4 L601.2 222.3 L602.8 222.7 L604.4 223.7 L606.0 223.6 L607.6 224.2 L609.2 223.1 L610.8 222.0 L612.4 221.0 L614.0 221.8 L615.6 221.0 L617.2 221.5 L618.8 222.4 L620.4 221.7 L622.0 221.5 L623.6 222.7 L625.2 221.8 L626.8 221.9 L628.4 221.2 L630.0 218.9 L631.6 219.4 L633.2 222.0 L634.8 221.0 L636.4 221.8 L638.0 220.9 L639.6 220.0 L641.2 219.7 L642.8 219.8 L644.4 220.8 L646.0 220.1 L647.6 220.5 L649.2 216.5 L650.8 219.9 L652.4 221.1 L654.0 221.9 L655.6 222.7 L657.2 223.5 L658.8 222.9 L660.4 223.8 L662.0 222.7 L663.6 222.0 L665.2 219.3 L666.8 220.9 L668.4 221.6 L670.0 221.7 L671.6 219.3 L673.2 220.3 L674.8 220.7 L676.4 220.8 L678.0 220.0 L679.6 220.1 L681.2 221.1 L682.8 221.2 L684.4 222.4 L686.0 223.1 L687.6 223.3 L689.2 221.0 L690.8 221.7 L692.4 221.2 L694.0 220.3 L695.6 221.4 L697.2 221.0 L698.8 220.6 L700.4 220.0 L702.0 219.7 L703.6 221.1 L705.2 220.6 L706.8 220.3 L708.4 219.4 L710.0 219.6 L711.6 219.2 L713.2 218.4 L714.8 217.9 L716.4 215.5 L718.0 217.3 L719.6 217.9 L721.2 218.8 L722.8 220.0 L724.4 219.9 L726.0 219.3 L727.6 216.4 L729.2 221.1 L730.8 221.8 L732.4 221.0 L734.0 221.1 L735.6 221.9 L737.2 222.1 L738.8 222.5 L740.4 220.0 L742.0 221.5 L743.6 222.4 L745.2 222.6 L746.8 222.9 L748.4 221.7 L750.0 222.3 L751.6 222.3 L753.2 221.3 L754.8 220.8 L756.4 220.4 L758.0 219.9 L759.6 221.3 L761.2 221.1 L762.8 221.6 L764.4 221.9 L766.0 221.0 L767.6 220.5 L769.2 220.3 L770.8 219.4 L772.4 219.1 L774.0 219.9 L775.6 219.7 L777.2 219.9 L778.8 219.3 L780.4 218.9 L782.0 217.6 L783.6 221.2 L785.2 221.2 L786.8 220.6 L788.4 220.1 L790.0 219.5 L791.6 220.9 L793.2 221.7 L794.8 222.7 L796.4 222.0 L798.0 220.4 L799.6 221.9 L801.2 221.5 L802.8 221.2 L804.4 218.7 L806.0 222.8 L807.6 223.7 L809.2 224.4 L810.8 223.8 L812.4 224.8 L814.0 224.1 L815.6 221.6 L817.2 223.9 L818.8 224.7 L820.4 223.8 L822.0 222.9 L823.6 223.9 L825.2 224.3 L826.8 225.0 L828.4 224.8 L830.0 223.4 L831.6 223.1 L833.2 223.3 L834.8 222.1 L836.4 221.3 L838.0 221.0 L839.6 221.7 L841.2 221.1 L842.8 220.8 L844.4 220.7 L846.0 220.1 L847.6 221.2 L849.2 220.7 L850.8 222.0 L852.4 221.2 L854.0 220.3 L855.6 219.6 L857.2 219.3 L858.8 220.5 L860.4 220.5 L862.0 220.7 L863.6 220.5 L865.2 220.2 L866.8 219.6 L868.4 220.1 L870.0 219.7 L871.6 219.4 L873.2 219.6 L874.8 220.7 L876.4 216.5 L878.0 220.9 L879.6 218.8 L881.2 222.3 L882.8 223.1 L884.4 222.4 L886.0 221.6 L887.6 222.0 L889.2 222.5 L890.8 223.1 L892.4 219.6 L894.0 222.3 L895.6 222.6 L897.2 221.7 L898.8 222.0 L900.4 221.1 L902.0 221.3 L903.6 221.1 L905.2 219.2 L906.8 221.4 L908.4 221.8 L910.0 221.8 L911.6 221.2 L913.2 221.8 L914.8 220.7 L916.4 221.3 L918.0 220.8 L919.6 221.9 L921.2 220.9 L922.8 220.8 L924.4 220.3 L926.0 221.0 L927.6 220.5 L929.2 220.2 L930.8 219.8 L932.4 220.7 L934.0 221.9 L935.6 221.2 L937.2 221.1 L938.8 222.2 L940.4 221.9 L942.0 223.0 L943.6 221.9 L945.2 221.7 L946.8 222.6 L948.4 223.6 L950.0 223.1 L951.6 223.9 L953.2 222.6 L954.8 222.3 L956.4 221.9 L958.0 220.7 L959.6 220.5 L961.2 219.9 L962.8 219.4 L964.4 220.5 L966.0 217.8 L967.6 220.4 L969.2 219.9 L970.8 218.5 L972.4 221.9 L974.0 219.2 L975.6 221.9 L977.2 222.5 L978.8 222.1 L980.4 223.1 L982.0 222.4 L983.6 222.0 L985.2 220.8 L986.8 221.9 L988.4 220.9 L990.0 222.8 L991.6 223.7 L993.2 223.0 L994.8 222.8 L996.4 222.0 L998.0 222.5 L999.6 223.1 L1001.2 222.6 L1002.8 222.2 L1004.4 221.2 L1006.0 221.9 L1007.6 218.0 L1009.2 220.6 L1010.8 221.7 L1012.4 221.2 L1014.0 220.3 L1015.6 221.0 L1017.2 220.5 L1018.8 221.0 L1020.4 221.7 L1022.0 222.1 L1023.6 222.9 L1025.2 222.9 L1026.8 223.3 L1028.4 222.6 L1030.0 221.7 L1031.6 222.0 L1033.2 221.7 L1034.8 221.8 L1036.4 222.5 L1038.0 223.6 L1039.6 223.3 L1041.2 223.9 L1042.8 222.7 L1044.4 221.7 L1046.0 222.8 L1047.6 223.7 L1049.2 224.3 L1050.8 223.5 L1052.4 224.3 L1054.0 224.3 L1055.6 223.4 L1057.2 222.4 L1058.8 221.8 L1060.4 222.1 L1062.0 221.0 L1063.6 221.5 L1065.2 221.2 L1066.8 221.9 L1068.4 220.9 L1070.0 220.8 L1071.6 221.3 L1073.2 220.6 L1074.8 220.6 L1076.4 220.3 L1078.0 220.1 L1079.6 220.0 L1081.2 221.1 L1082.8 220.9 L1084.4 221.5 L1086.0 220.4 L1087.6 220.5 L1089.2 220.4 L1090.8 220.5 L1092.4 219.6 L1094.0 220.2 L1095.6 219.5 L1097.2 219.5 L1098.8 219.0 L1100.4 219.4 L1102.0 218.8 L1103.6 219.9 L1105.2 219.4 L1106.8 220.8 L1108.4 217.1 L1110.0 220.8 L1111.6 221.2 L1113.2 220.5 L1114.8 220.0 L1116.4 221.1 L1118.0 220.5 L1119.6 220.4 L1121.2 220.3 L1122.8 220.0 L1124.4 218.2 L1126.0 218.2 L1127.6 221.0 L1129.2 221.2 L1130.8 220.8 L1132.4 221.2 L1134.0 221.6 L1135.6 218.5 L1137.2 221.6 L1138.8 222.2 L1140.4 222.1 L1142.0 222.0 L1143.6 221.2 L1145.2 220.3 L1146.8 217.5 L1148.4 219.8 L1150.0 220.7 L1151.6 219.8 L1153.2 219.8 L1154.8 219.2 L1156.4 220.7 L1158.0 221.6 L1159.6 222.7 L1161.2 223.7 L1162.8 222.7 L1164.4 223.6 L1166.0 223.1 L1167.6 222.2 L1169.2 221.6 L1170.8 220.9 L1172.4 222.0 L1174.0 221.4 L1175.6 219.1 L1177.2 220.4 L1178.8 221.0 L1180.4 220.4 L1182.0 219.7 L1183.6 220.3 L1185.2 221.3 L1186.8 221.6 L1188.4 220.7 L1190.0 221.2 L1191.6 222.0 L1193.2 223.1 L1193 236Z" fill="#b1d5eb" clip-path="url(#cpBlue)"/>
<rect x="455.5" y="207" width="1" height="29" fill="#e9edef" fill-opacity=".9"/>
<rect x="529.3" y="207" width="1" height="29" fill="#e9edef" fill-opacity=".9"/>
<rect x="603.1" y="207" width="1" height="29" fill="#e9edef" fill-opacity=".9"/>
<rect x="676.9" y="207" width="1" height="29" fill="#e9edef" fill-opacity=".9"/>
<rect x="750.7" y="207" width="1" height="29" fill="#e9edef" fill-opacity=".9"/>
<rect x="824.5" y="207" width="1" height="29" fill="#e9edef" fill-opacity=".9"/>
<rect x="898.3" y="207" width="1" height="29" fill="#e9edef" fill-opacity=".9"/>
<rect x="972.1" y="207" width="1" height="29" fill="#e9edef" fill-opacity=".9"/>
<rect x="1045.9" y="207" width="1" height="29" fill="#e9edef" fill-opacity=".9"/>
<rect x="1119.7" y="207" width="1" height="29" fill="#e9edef" fill-opacity=".9"/>
<rect x="380" y="207" width="80" height="29" fill="url(#fadeL)"/>
<rect x="1100" y="207" width="93" height="29" fill="url(#fadeR)"/>
</g>
<path d="M743.2 236 L752 227.6 L760.8 236Z" fill="#fdfdfd"/>
<rect x="308.5" y="234.8" width="435" height="1" fill="#e3e7ea"/><rect x="760.5" y="234.8" width="433" height="1" fill="#e3e7ea"/>
<rect x="529.5" y="205.5" width="147.5" height="3" fill="#e2705b"/>
<rect x="677" y="205.5" width="148.8" height="3" fill="#6cb8e4"/>
<rect x="676.2" y="208.5" width="2" height="28.5" fill="#fff"/>
<rect x="678.2" y="208.5" width=".8" height="28.5" fill="#c9d3da" fill-opacity=".8"/>
<circle cx="677.2" cy="220.6" r="4.6" fill="#fff" filter="url(#ts)"/>
<circle cx="677.2" cy="220.6" r="2.1" fill="#2f6b7e"/>
<rect x="825.0" y="208.5" width="2" height="28.5" fill="#fff"/>
<rect x="827.0" y="208.5" width=".8" height="28.5" fill="#c9d3da" fill-opacity=".8"/>
<circle cx="826.0" cy="220.6" r="4.6" fill="#fff" filter="url(#ts)"/>
<circle cx="826.0" cy="220.6" r="2.1" fill="#2f6b7e"/>
<rect x="356.9" y="206.2" width="1" height="29" fill="#e5e8eb"/>
<rect x="314.5" y="213" width="16.2" height="16.2" rx="2.8" fill="#f4f7fa" stroke="#e1e8ee" stroke-width="1"/><path d="M318.9 221.1H326.3" fill="none" stroke="#dce4eb" stroke-width="3.5" stroke-linecap="round" stroke-linejoin="round"/><path d="M318.9 221.1H326.3" fill="none" stroke="#fdfeff" stroke-width="2" stroke-linecap="round" stroke-linejoin="round"/>
<rect x="334.6" y="213" width="16.2" height="16.2" rx="2.8" fill="#f4f7fa" stroke="#e1e8ee" stroke-width="1"/><path d="M339.0 221.1H346.4M342.7 217.4V224.8" fill="none" stroke="#dce4eb" stroke-width="3.5" stroke-linecap="round" stroke-linejoin="round"/><path d="M339.0 221.1H346.4M342.7 217.4V224.8" fill="none" stroke="#fdfeff" stroke-width="2" stroke-linecap="round" stroke-linejoin="round"/>
<rect x="363.9" y="213" width="16.5" height="16.2" rx="2.8" fill="#f4f7fa" stroke="#e1e8ee" stroke-width="1"/><path d="M373.9 216.8L369.8 221.1L373.9 225.4" fill="none" stroke="#dce4eb" stroke-width="3.5" stroke-linecap="round" stroke-linejoin="round"/><path d="M373.9 216.8L369.8 221.1L373.9 225.4" fill="none" stroke="#fdfeff" stroke-width="2" stroke-linecap="round" stroke-linejoin="round"/>
<rect x="1171.0" y="213" width="16.5" height="16.2" rx="2.8" fill="#f4f7fa" stroke="#e1e8ee" stroke-width="1"/><path d="M1177.5 216.8L1181.7 221.1L1177.5 225.4" fill="none" stroke="#dce4eb" stroke-width="3.5" stroke-linecap="round" stroke-linejoin="round"/><path d="M1177.5 216.8L1181.7 221.1L1177.5 225.4" fill="none" stroke="#fdfeff" stroke-width="2" stroke-linecap="round" stroke-linejoin="round"/>
<rect x="341.6" y="237" width="851" height="202" fill="url(#grid)"/>
<rect x="309" y="237" width="33" height="202" fill="url(#grid)" fill-opacity=".6"/>
<rect x="341" y="321.0" width="852" height="1" fill="#f2f3f4"/>
<rect x="341" y="347.8" width="852" height="1" fill="#f2f3f4"/>
<rect x="341" y="374.5" width="852" height="1" fill="#f2f3f4"/>
<rect x="341" y="401.1" width="852" height="1" fill="#f2f3f4"/>
<rect x="341" y="427.7" width="852" height="1" fill="#f2f3f4"/>
<rect x="394.2" y="281" width="1" height="154" fill="#e6e8ea"/>
<rect x="500.8" y="281" width="1" height="154" fill="#e6e8ea"/>
<rect x="607.5" y="281" width="1" height="154" fill="#e6e8ea"/>
<rect x="714.2" y="281" width="1" height="154" fill="#e6e8ea"/>
<rect x="820.7" y="281" width="1" height="154" fill="#e6e8ea"/>
<rect x="927.3" y="281" width="1" height="154" fill="#e6e8ea"/>
<rect x="1033.9" y="281" width="1" height="154" fill="#e6e8ea"/>
<rect x="1140.5" y="281" width="1" height="154" fill="#e6e8ea"/>
<path d="M375.8 342.5 L356.6 354 L375.8 365.5Z" fill="#f4f6f8" stroke="#eff2f4" stroke-width=".6"/>
<path d="M1159.8 342.5 L1179 354 L1159.8 365.5Z" fill="#f4f6f8" stroke="#eff2f4" stroke-width=".6"/>
<rect x="394.2" y="434.8" width="747.3" height="3" fill="#6fbbe6"/>
<g filter="url(#ls)"><path d="M394.7 401.1 L501.3 397.8 L608.0 365.6 L714.9 386.7 L821.1 381.6 L927.8 324.9 L1034.4 327.4 L1140.9 374.8" fill="none" stroke="#e2705b" stroke-width="2" stroke-linejoin="round"/><circle cx="394.7" cy="401.1" r="3.9" fill="#fff"/><circle cx="394.7" cy="401.1" r="2.9" fill="#e2705b"/><circle cx="501.3" cy="397.8" r="3.9" fill="#fff"/><circle cx="501.3" cy="397.8" r="2.9" fill="#e2705b"/><circle cx="608.0" cy="365.6" r="3.9" fill="#fff"/><circle cx="608.0" cy="365.6" r="2.9" fill="#e2705b"/><circle cx="714.9" cy="386.7" r="3.9" fill="#fff"/><circle cx="714.9" cy="386.7" r="2.9" fill="#e2705b"/><circle cx="821.1" cy="381.6" r="3.9" fill="#fff"/><circle cx="821.1" cy="381.6" r="2.9" fill="#e2705b"/><circle cx="927.8" cy="324.9" r="3.9" fill="#fff"/><circle cx="927.8" cy="324.9" r="2.9" fill="#e2705b"/><circle cx="1034.4" cy="327.4" r="3.9" fill="#fff"/><circle cx="1034.4" cy="327.4" r="2.9" fill="#e2705b"/><circle cx="1140.9" cy="374.8" r="3.9" fill="#fff"/><circle cx="1140.9" cy="374.8" r="2.9" fill="#e2705b"/></g>
<g filter="url(#ls)"><path d="M394.7 416.7 L501.3 367.3 L608.0 342.9 L714.9 380.0 L821.1 358.4 L927.8 331.6 L1034.4 314.3 L1140.9 295.0" fill="none" stroke="#5bb0e2" stroke-width="2" stroke-linejoin="round"/><circle cx="394.7" cy="416.7" r="3.9" fill="#fff"/><circle cx="394.7" cy="416.7" r="2.9" fill="#5bb0e2"/><circle cx="501.3" cy="367.3" r="3.9" fill="#fff"/><circle cx="501.3" cy="367.3" r="2.9" fill="#5bb0e2"/><circle cx="608.0" cy="342.9" r="3.9" fill="#fff"/><circle cx="608.0" cy="342.9" r="2.9" fill="#5bb0e2"/><circle cx="714.9" cy="380.0" r="3.9" fill="#fff"/><circle cx="714.9" cy="380.0" r="2.9" fill="#5bb0e2"/><circle cx="821.1" cy="358.4" r="3.9" fill="#fff"/><circle cx="821.1" cy="358.4" r="2.9" fill="#5bb0e2"/><circle cx="927.8" cy="331.6" r="3.9" fill="#fff"/><circle cx="927.8" cy="331.6" r="2.9" fill="#5bb0e2"/><circle cx="1034.4" cy="314.3" r="3.9" fill="#fff"/><circle cx="1034.4" cy="314.3" r="2.9" fill="#5bb0e2"/><circle cx="1140.9" cy="295.0" r="3.9" fill="#fff"/><circle cx="1140.9" cy="295.0" r="2.9" fill="#5bb0e2"/></g>
<path d="M785.5 316.5 H858.7 A5.5 5.5 0 0 1 864.2 322.0 V346.0 A5.5 5.5 0 0 1 858.7 351.5 H825.7 L821.2 356.5 L816.7 351.5 H785.5 A5.5 5.5 0 0 1 780.0 346.0 V322.0 A5.5 5.5 0 0 1 785.5 316.5 Z" fill="#fff" stroke="#73a5c8" stroke-width="1" filter="url(#ts)"/>
<path d="M891.9 282.6 H965.8 A5.5 5.5 0 0 1 971.3 288.1 V313.0 A5.5 5.5 0 0 1 965.8 318.5 H932.5 L928.0 323.5 L923.5 318.5 H891.9 A5.5 5.5 0 0 1 886.4 313.0 V288.1 A5.5 5.5 0 0 1 891.9 282.6 Z" fill="#fff" stroke="#e48b79" stroke-width="1" filter="url(#ts)"/>
<rect x="308" y="205.8" width="886" height="289.5" rx="4" fill="none" stroke="#dfe3e7" stroke-width="1"/>
</svg>
<div style="left:324px;top:243px;height:26px;line-height:26px;font-size:18.5px;letter-spacing:.62px;color:#66767f">Comparsion</div>
<div style="left:1086.5px;top:249px;width:94.5px;height:19.5px;border:1px solid #d5dfe6;border-radius:3px;background:#fff"></div>
<div style="left:1086.5px;top:252px;width:94.5px;height:14px;line-height:14px;text-align:center;font-size:9.9px;color:#566876;letter-spacing:-.08px">Close Comparsion</div>
<div style="left:318.5px;top:315.5px;height:12px;line-height:12px;font-size:9.8px;color:#7f8c95;letter-spacing:-.1px">400</div>
<div style="left:318.5px;top:342.3px;height:12px;line-height:12px;font-size:9.8px;color:#7f8c95;letter-spacing:-.1px">300</div>
<div style="left:318.5px;top:369.0px;height:12px;line-height:12px;font-size:9.8px;color:#7f8c95;letter-spacing:-.1px">200</div>
<div style="left:318.5px;top:395.6px;height:12px;line-height:12px;font-size:9.8px;color:#7f8c95;letter-spacing:-.1px">100</div>
<div style="left:390.0px;top:209px;height:9px;line-height:9px;font-size:7px;color:#b7bec4;letter-spacing:-.05px">August 2013</div>
<div style="left:464.0px;top:209px;height:9px;line-height:9px;font-size:7px;color:#b7bec4;letter-spacing:-.05px">September 2013</div>
<div style="left:537.7px;top:209px;height:9px;line-height:9px;font-size:7px;color:#a3acb3;letter-spacing:-.05px">October 2013</div>
<div style="left:608.7px;top:209px;height:9px;line-height:9px;font-size:7px;color:#a3acb3;letter-spacing:-.05px">November 2013</div>
<div style="left:683.3px;top:209px;height:9px;line-height:9px;font-size:7px;color:#62737f;letter-spacing:-.05px">December 2013</div>
<div style="left:756.7px;top:209px;height:9px;line-height:9px;font-size:7px;color:#62737f;letter-spacing:-.05px">January 2014</div>
<div style="left:831.7px;top:209px;height:9px;line-height:9px;font-size:7px;color:#b7bec4;letter-spacing:-.05px">February 2014</div>
<div style="left:905.6px;top:209px;height:9px;line-height:9px;font-size:7px;color:#b7bec4;letter-spacing:-.05px">March 2014</div>
<div style="left:981.2px;top:209px;height:9px;line-height:9px;font-size:7px;color:#b7bec4;letter-spacing:-.05px">April 2014</div>
<div style="left:1056.2px;top:209px;height:9px;line-height:9px;font-size:7px;color:#b7bec4;letter-spacing:-.05px">May 2014</div>
<div style="left:1129.8px;top:209px;height:9px;line-height:9px;font-size:7px;color:#b7bec4;letter-spacing:-.05px">June 2014</div>
<div style="left:382px;top:208px;width:40px;height:12px;background:linear-gradient(90deg,rgba(255,255,255,.85),rgba(255,255,255,0))"></div>
<div style="left:1130px;top:208px;width:40px;height:12px;background:linear-gradient(90deg,rgba(255,255,255,0),rgba(255,255,255,.6))"></div>
<div style="left:780px;top:320.5px;width:84.2px;height:10px;line-height:10px;text-align:center;font-size:7.9px;color:#73838e;letter-spacing:.22px">December 2013</div>
<div style="left:780px;top:332px;width:84.2px;height:16px;line-height:16px;text-align:center;font-size:13px;color:#4b94c4;letter-spacing:.45px">236 532</div>
<div style="left:886.4px;top:287px;width:84.9px;height:10px;line-height:10px;text-align:center;font-size:7.9px;color:#73838e;letter-spacing:.12px">January 2014</div>
<div style="left:886.4px;top:298.5px;width:84.9px;height:16px;line-height:16px;text-align:center;font-size:13px;color:#e2705b;letter-spacing:.2px">640 431</div>
<div style="left:321.6px;top:453px;height:18px;line-height:18px;font-size:14px;color:#5d6e7b;letter-spacing:.5px"><b style="position:static;letter-spacing:.72px;color:#566876">Growth: 12%</b> (+20 983 943 Views)</div>
<div style="left:322px;top:474px;height:10px;line-height:10px;font-size:8px;color:#848f98;letter-spacing:.265px">The blue period compared with red one based on the summ of chosen positions.</div>
<div style="left:954.0px;top:453px;width:110px;height:33.5px;border:1px solid #dfe6ea;border-radius:4px;background:#fff"></div>
<div style="left:959.6px;top:458.8px;width:10px;height:10px;border-radius:5px;background:#e8705a"></div>
<div style="left:976.4px;top:457.5px;width:81.5px;height:12px;line-height:12px;text-align:right;font-size:9.4px;font-weight:bold;color:#4f5f6b;letter-spacing:-.06px">01.10.13 - 01.03.14</div>
<div style="left:976.4px;top:471px;width:81.5px;height:12px;line-height:12px;text-align:right;font-size:9.9px;color:#e2705b;letter-spacing:-.42px">17 876 356</div>
<div style="left:1071.5px;top:453px;width:110px;height:33.5px;border:1px solid #dfe6ea;border-radius:4px;background:#fff"></div>
<div style="left:1077.1px;top:458.8px;width:10px;height:10px;border-radius:5px;background:#5bb3e8"></div>
<div style="left:1093.9px;top:457.5px;width:81.5px;height:12px;line-height:12px;text-align:right;font-size:9.4px;font-weight:bold;color:#4f5f6b;letter-spacing:-.06px">01.10.13 - 01.03.14</div>
<div style="left:1093.9px;top:471px;width:81.5px;height:12px;line-height:12px;text-align:right;font-size:9.9px;color:#4b94c4;letter-spacing:-.42px">3 231 740</div>
<div id="lower" style="left:301px;top:500px;width:900px;height:206px;background:#f3f3f3;border-top:1px solid #e1e4e6"></div>
<div style="left:308.0px;top:508px;width:76.0px;height:19.5px;background:#5cb3e5;border:1px solid #4ea7da;color:#fff;text-shadow:0 1px 0 rgba(0,0,0,.08);border-radius:3px 0px 0px 3px;"></div>
<div style="left:320.8px;top:511px;height:14px;line-height:14px;font-size:10px;letter-spacing:0.13px;color:#fff">Platforms</div>
<div style="left:383.5px;top:508px;width:63.0px;height:19.5px;background:#fff;border:1px solid #d5dfe6;color:#5a6b78;border-radius:0px 3px 3px 0px;"></div>
<div style="left:397.2px;top:511px;height:14px;line-height:14px;font-size:10px;letter-spacing:0.03px;color:#5a6b78">Countries</div>
<div style="left:453.3px;top:508px;width:90.7px;height:19.5px;background:#5cb3e5;border:1px solid #4ea7da;color:#fff;text-shadow:0 1px 0 rgba(0,0,0,.08);border-radius:3px 0px 0px 3px;"></div>
<div style="left:466.0px;top:511px;height:14px;line-height:14px;font-size:10px;letter-spacing:-0.12px;color:#fff">All Campaigns</div>
<div style="left:543.5px;top:508px;width:92.3px;height:19.5px;background:#fff;border:1px solid #d5dfe6;color:#5a6b78;border-radius:0px 3px 3px 0px;"></div>
<div style="left:567.0px;top:511px;height:14px;line-height:14px;font-size:10px;letter-spacing:-0.22px;color:#5a6b78">Chosen</div>
<div style="left:615.1px;top:512.6px;width:11.2px;height:10.5px;border-radius:2.5px;background:#9da9b0;border:1px solid #909ca3"></div>
<div style="left:615.1px;top:512.9px;width:11.2px;height:10px;line-height:10px;text-align:center;font-size:8.2px;font-weight:bold;color:#e4ebf0">5</div>
<div style="left:941.7px;top:508px;width:118.0px;height:19.5px;background:#fff;border:1px solid #d5dfe6;color:#5a6b78;border-radius:3px 3px 3px 3px;"></div>
<div style="left:971.8px;top:511px;height:14px;line-height:14px;font-size:10px;letter-spacing:0.23px;color:#5a6b78">Notifications</div>
<div style="left:962px;top:509px;width:1px;height:17.5px;background:#dfe6eb"></div>
<svg width="13" height="13" viewBox="0 0 13 13" style="left:945.5px;top:511.3px"><circle cx="6.5" cy="6.5" r="6.2" fill="#8fb42c"/><path d="M6.5 3.5V9.5M3.5 6.5H9.5" stroke="#fff" stroke-width="1.7" stroke-linecap="round"/></svg>
<div style="left:1041.4px;top:512.6px;width:11.5px;height:10.5px;border-radius:2.5px;background:#9da9b0;border:1px solid #909ca3"></div>
<div style="left:1041.4px;top:512.9px;width:11.5px;height:10px;line-height:10px;text-align:center;font-size:8.2px;font-weight:bold;color:#e4ebf0">5</div>
<div style="left:1065.5px;top:508px;width:101.1px;height:19.5px;background:#fff;border:1px solid #d5dfe6;color:#5a6b78;border-radius:3px 3px 3px 3px;"></div>
<div style="left:1084.6px;top:511px;height:14px;line-height:14px;font-size:10px;letter-spacing:-0.08px;color:#5a6b78">Create Report</div>
<div style="left:1172.5px;top:508px;width:21.0px;height:19.5px;background:#fff;border:1px solid #d5dfe6;color:#5a6b78;border-radius:3px 3px 3px 3px;"></div>
<svg width="11" height="11" viewBox="0 0 11 11" style="left:1177.6px;top:512.4px"><path d="M6.2 .6H10.4V4.8L8.9 3.3L6.8 5.4L5.6 4.2L7.7 2.1Z M4.8 10.4H.6V6.2L2.1 7.7L4.2 5.6L5.4 6.8L3.3 8.9Z" fill="#4f5f6b"/></svg>
<div style="left:308px;top:535px;width:885.8px;height:165px;background:#fff;border:1px solid #d8dde1;border-radius:3px;overflow:hidden;box-shadow:0 1px 1px rgba(0,0,0,.04)" id="tbl"></div>
<div style="left:309.0px;top:568.3px;width:772.4px;height:20.1px;background:#f2f3f4"></div>
<div style="left:1081.4px;top:568.3px;width:111.4px;height:20.1px;background:#f7f8f8"></div>
<div style="left:309.0px;top:588.4px;width:772.4px;height:20.0px;background:#fafbfb"></div>
<div style="left:1081.4px;top:588.4px;width:111.4px;height:20.0px;background:#fdfdfd"></div>
<div style="left:309.0px;top:608.4px;width:772.4px;height:20.0px;background:#f2f3f4"></div>
<div style="left:1081.4px;top:608.4px;width:111.4px;height:20.0px;background:#f7f8f8"></div>
<div style="left:309.0px;top:628.4px;width:772.4px;height:20.0px;background:#fafbfb"></div>
<div style="left:1081.4px;top:628.4px;width:111.4px;height:20.0px;background:#fdfdfd"></div>
<div style="left:309.0px;top:648.4px;width:772.4px;height:20.1px;background:#f2f3f4"></div>
<div style="left:1081.4px;top:648.4px;width:111.4px;height:20.1px;background:#f7f8f8"></div>
<div style="left:309.0px;top:668.5px;width:883.8px;height:21px;background:#fcfcfc"></div>
<div style="left:309.0px;top:689.5px;width:883.8px;height:10px;background:#f8f9f9"></div>
<div style="left:441.0px;top:536.5px;width:640.4px;height:12.3px;background:repeating-linear-gradient(135deg,#fff 0,#fff 2px,#f8f9f9 2px,#f8f9f9 3.2px)"></div>
<div style="left:440.5px;top:548.6px;width:640.9px;height:1px;background:#e3e8ec"></div>
<div style="left:309.0px;top:567.8px;width:883.8px;height:1px;background:#cfd9e0;box-shadow:0 1px 1px rgba(0,0,0,.05)"></div>
<div style="left:309.0px;top:587.9px;width:883.8px;height:1px;background:#e0e4e7"></div>
<div style="left:309.0px;top:607.9px;width:883.8px;height:1px;background:#e0e4e7"></div>
<div style="left:309.0px;top:627.9px;width:883.8px;height:1px;background:#e0e4e7"></div>
<div style="left:309.0px;top:647.9px;width:883.8px;height:1px;background:#e0e4e7"></div>
<div style="left:309.0px;top:668px;width:883.8px;height:1px;background:#cfd9e0;box-shadow:0 1px 1px rgba(0,0,0,.06)"></div>
<div style="left:309.0px;top:689px;width:883.8px;height:1px;background:#e0e4e7"></div>
<div style="left:331.9px;top:536.5px;width:1px;height:163.0px;background:#e0e4e7"></div>
<div style="left:440.0px;top:536.5px;width:1px;height:163.0px;background:#e0e4e7"></div>
<div style="left:547.7px;top:549.0px;width:1px;height:150.5px;background:#e0e4e7"></div>
<div style="left:653.8px;top:536.5px;width:1px;height:163.0px;background:#e0e4e7"></div>
<div style="left:760.9px;top:549.0px;width:1px;height:150.5px;background:#e0e4e7"></div>
<div style="left:867.1px;top:549.0px;width:1px;height:150.5px;background:#e0e4e7"></div>
<div style="left:974.0px;top:549.0px;width:1px;height:150.5px;background:#e0e4e7"></div>
<div style="left:1080.9px;top:536.5px;width:1px;height:163.0px;background:#e0e4e7"></div>
<div style="left:1137.1px;top:536.5px;width:1px;height:163.0px;background:#e0e4e7"></div>
<div style="left:315.4px;top:546.7px;width:10.4px;height:10.4px;border-radius:2.2px;background:#e8ebf0;border:1px solid #dce1e7"></div>
<svg width="8" height="7" viewBox="0 0 8 7" style="left:316.6px;top:548.1px"><path d="M.8 3.4L3 5.6L7.2 .9" fill="none" stroke="#3a4a57" stroke-width="1.7"/></svg>
<div style="left:339.4px;top:545px;height:15px;line-height:15px;font-size:10.5px;font-weight:bold;color:#4290c6;letter-spacing:.27px">Campaign</div>
<svg width="6" height="14" viewBox="0 0 6 14" style="left:426.8px;top:545.2px"><path d="M3 .6L5.6 5.4H0.4Z M3 13.4L5.6 8.4H0.4Z" fill="#c9cfd4"/></svg>
<div style="left:527.3px;top:537.5px;width:40px;height:10px;line-height:10px;text-align:center;font-size:7.5px;color:#7b8a94;letter-spacing:.2px">2013</div>
<div style="left:847.8px;top:537.5px;width:40px;height:10px;line-height:10px;text-align:center;font-size:7.5px;color:#7b8a94;letter-spacing:.2px">2014</div>
<div style="left:453.4px;top:551.5px;width:80px;height:14px;line-height:14px;text-align:center;font-size:10px;color:#4f5f6b">October</div>
<div style="left:563.0px;top:551.5px;width:80px;height:14px;line-height:14px;text-align:center;font-size:10px;color:#4f5f6b">November</div>
<div style="left:670.5px;top:551.5px;width:80px;height:14px;line-height:14px;text-align:center;font-size:10px;color:#4f5f6b">December</div>
<div style="left:775.3px;top:551.5px;width:80px;height:14px;line-height:14px;text-align:center;font-size:10px;color:#4f5f6b">January</div>
<div style="left:881.3px;top:551.5px;width:80px;height:14px;line-height:14px;text-align:center;font-size:10px;color:#4f5f6b">February</div>
<div style="left:989.2px;top:551.5px;width:80px;height:14px;line-height:14px;text-align:center;font-size:10px;color:#4f5f6b">March</div>
<div style="left:1089.4px;top:546px;height:12px;line-height:12px;font-size:8px;font-weight:bold;color:#4290c6;letter-spacing:.2px">Average</div>
<svg width="6" height="14" viewBox="0 0 6 14" style="left:1126.8px;top:545.2px"><path d="M3 .6L5.1 5.4H0.9Z M3 13.4L5.1 8.4H0.9Z" fill="#c9cfd4"/></svg>
<div style="left:1147px;top:546px;height:12px;line-height:12px;font-size:8px;font-weight:bold;color:#4290c6;letter-spacing:.42px">Total</div>
<svg width="6" height="14" viewBox="0 0 6 14" style="left:1182.3px;top:545.2px"><path d="M3 .6L5.1 5.4H0.9Z M3 13.4L5.1 8.4H0.9Z" fill="#c9cfd4"/></svg>
<div style="left:315.4px;top:573.1px;width:10.4px;height:10.4px;border-radius:2.2px;background:#e8ebf0;border:1px solid #dce1e7"></div>
<div style="left:339.4px;top:572.8px;height:12px;line-height:12px;font-size:8px;font-weight:bold;color:#4f5f6b;letter-spacing:.03px">Colins Collection</div>
<div style="left:453.4px;top:572.5px;width:80px;height:12px;line-height:12px;text-align:center;font-size:8px;color:#8fae3a;letter-spacing:.08px">3 465 436</div>
<div style="left:563.0px;top:572.5px;width:80px;height:12px;line-height:12px;text-align:center;font-size:8px;color:#7b8a94;letter-spacing:.08px">3 324 578</div>
<div style="left:670.5px;top:572.5px;width:80px;height:12px;line-height:12px;text-align:center;font-size:8px;color:#7b8a94;letter-spacing:.08px">8 634 894</div>
<div style="left:775.3px;top:572.5px;width:80px;height:12px;line-height:12px;text-align:center;font-size:8px;color:#7b8a94;letter-spacing:.08px">6 743 734</div>
<div style="left:881.3px;top:572.5px;width:80px;height:12px;line-height:12px;text-align:center;font-size:8px;color:#8fae3a;letter-spacing:.08px">45 384 358</div>
<div style="left:989.2px;top:572.5px;width:80px;height:12px;line-height:12px;text-align:center;font-size:8px;color:#7b8a94;letter-spacing:.08px">90 564 085</div>
<div style="left:1080.0px;top:572.5px;width:60px;height:12px;line-height:12px;text-align:center;font-size:8px;font-weight:bold;color:#4f5f6b;letter-spacing:.06px">56 856 489</div>
<div style="left:1145px;top:572.5px;height:12px;line-height:12px;font-size:8px;font-weight:bold;color:#4f5f6b;letter-spacing:.06px">67 634 357</div>
<div style="left:315.4px;top:593.2px;width:10.4px;height:10.4px;border-radius:2.2px;background:#e8ebf0;border:1px solid #dce1e7"></div>
<div style="left:339.4px;top:592.9px;height:12px;line-height:12px;font-size:8px;font-weight:bold;color:#4f5f6b;letter-spacing:.03px">Ipad Ad</div>
<div style="left:453.4px;top:592.6px;width:80px;height:12px;line-height:12px;text-align:center;font-size:8px;color:#7b8a94;letter-spacing:.08px">456 456</div>
<div style="left:563.0px;top:592.6px;width:80px;height:12px;line-height:12px;text-align:center;font-size:8px;color:#8fae3a;letter-spacing:.08px">8 853 564</div>
<div style="left:670.5px;top:592.6px;width:80px;height:12px;line-height:12px;text-align:center;font-size:8px;color:#7b8a94;letter-spacing:.08px">854 748</div>
<div style="left:775.3px;top:592.6px;width:80px;height:12px;line-height:12px;text-align:center;font-size:8px;color:#7b8a94;letter-spacing:.08px">999 343</div>
<div style="left:881.3px;top:592.6px;width:80px;height:12px;line-height:12px;text-align:center;font-size:8px;color:#7b8a94;letter-spacing:.08px">678 678</div>
<div style="left:989.2px;top:592.6px;width:80px;height:12px;line-height:12px;text-align:center;font-size:8px;color:#7b8a94;letter-spacing:.08px">684 586 54</div>
<div style="left:1080.0px;top:592.6px;width:60px;height:12px;line-height:12px;text-align:center;font-size:8px;font-weight:bold;color:#4f5f6b;letter-spacing:.06px">324 235</div>
<div style="left:1145px;top:592.6px;height:12px;line-height:12px;font-size:8px;font-weight:bold;color:#4f5f6b;letter-spacing:.06px">45 645 654</div>
<div style="left:315.4px;top:613.2px;width:10.4px;height:10.4px;border-radius:2.2px;background:#e8ebf0;border:1px solid #dce1e7"></div>
<div style="left:339.4px;top:612.9px;height:12px;line-height:12px;font-size:8px;font-weight:bold;color:#4f5f6b;letter-spacing:.03px">Colins Collection</div>
<div style="left:453.4px;top:612.6px;width:80px;height:12px;line-height:12px;text-align:center;font-size:8px;color:#7b8a94;letter-spacing:.08px">3 465 436</div>
<div style="left:563.0px;top:612.6px;width:80px;height:12px;line-height:12px;text-align:center;font-size:8px;color:#7b8a94;letter-spacing:.08px">3 324 578</div>
<div style="left:670.5px;top:612.6px;width:80px;height:12px;line-height:12px;text-align:center;font-size:8px;color:#7b8a94;letter-spacing:.08px">8 634 894</div>
<div style="left:775.3px;top:612.6px;width:80px;height:12px;line-height:12px;text-align:center;font-size:8px;color:#7b8a94;letter-spacing:.08px">6 743 734</div>
<div style="left:881.3px;top:612.6px;width:80px;height:12px;line-height:12px;text-align:center;font-size:8px;color:#7b8a94;letter-spacing:.08px">45 384 358</div>
<div style="left:989.2px;top:612.6px;width:80px;height:12px;line-height:12px;text-align:center;font-size:8px;color:#7b8a94;letter-spacing:.08px">90 564 085</div>
<div style="left:1080.0px;top:612.6px;width:60px;height:12px;line-height:12px;text-align:center;font-size:8px;font-weight:bold;color:#4f5f6b;letter-spacing:.06px">56 856 489</div>
<div style="left:1145px;top:612.6px;height:12px;line-height:12px;font-size:8px;font-weight:bold;color:#4f5f6b;letter-spacing:.06px">67 634 357</div>
<div style="left:315.4px;top:633.2px;width:10.4px;height:10.4px;border-radius:2.2px;background:#e8ebf0;border:1px solid #dce1e7"></div>
<div style="left:339.4px;top:632.9px;height:12px;line-height:12px;font-size:8px;font-weight:bold;color:#4f5f6b;letter-spacing:.03px">Ipad Ad</div>
<div style="left:453.4px;top:632.6px;width:80px;height:12px;line-height:12px;text-align:center;font-size:8px;color:#7b8a94;letter-spacing:.08px">456 456</div>
<div style="left:563.0px;top:632.6px;width:80px;height:12px;line-height:12px;text-align:center;font-size:8px;color:#7b8a94;letter-spacing:.08px">8 853 564</div>
<div style="left:670.5px;top:632.6px;width:80px;height:12px;line-height:12px;text-align:center;font-size:8px;color:#7b8a94;letter-spacing:.08px">854 748</div>
<div style="left:775.3px;top:632.6px;width:80px;height:12px;line-height:12px;text-align:center;font-size:8px;color:#7b8a94;letter-spacing:.08px">999 343</div>
<div style="left:881.3px;top:632.6px;width:80px;height:12px;line-height:12px;text-align:center;font-size:8px;color:#7b8a94;letter-spacing:.08px">678 678</div>
<div style="left:989.2px;top:632.6px;width:80px;height:12px;line-height:12px;text-align:center;font-size:8px;color:#7b8a94;letter-spacing:.08px">684 586 54</div>
<div style="left:1080.0px;top:632.6px;width:60px;height:12px;line-height:12px;text-align:center;font-size:8px;font-weight:bold;color:#4f5f6b;letter-spacing:.06px">324 235</div>
<div style="left:1145px;top:632.6px;height:12px;line-height:12px;font-size:8px;font-weight:bold;color:#4f5f6b;letter-spacing:.06px">45 645 654</div>
<div style="left:315.4px;top:653.2px;width:10.4px;height:10.4px;border-radius:2.2px;background:#e8ebf0;border:1px solid #dce1e7"></div>
<div style="left:339.4px;top:653.0px;height:12px;line-height:12px;font-size:8px;font-weight:bold;color:#4f5f6b;letter-spacing:.03px">Colins Collection</div>
<div style="left:453.4px;top:652.7px;width:80px;height:12px;line-height:12px;text-align:center;font-size:8px;color:#7b8a94;letter-spacing:.08px">3 465 436</div>
<div style="left:563.0px;top:652.7px;width:80px;height:12px;line-height:12px;text-align:center;font-size:8px;color:#7b8a94;letter-spacing:.08px">3 324 578</div>
<div style="left:670.5px;top:652.7px;width:80px;height:12px;line-height:12px;text-align:center;font-size:8px;color:#7b8a94;letter-spacing:.08px">8 634 894</div>
<div style="left:775.3px;top:652.7px;width:80px;height:12px;line-height:12px;text-align:center;font-size:8px;color:#7b8a94;letter-spacing:.08px">6 743 734</div>
<div style="left:881.3px;top:652.7px;width:80px;height:12px;line-height:12px;text-align:center;font-size:8px;color:#7b8a94;letter-spacing:.08px">45 384 358</div>
<div style="left:989.2px;top:652.7px;width:80px;height:12px;line-height:12px;text-align:center;font-size:8px;color:#7b8a94;letter-spacing:.08px">90 564 085</div>
<div style="left:1080.0px;top:652.7px;width:60px;height:12px;line-height:12px;text-align:center;font-size:8px;font-weight:bold;color:#4f5f6b;letter-spacing:.06px">56 856 489</div>
<div style="left:1145px;top:652.7px;height:12px;line-height:12px;font-size:8px;font-weight:bold;color:#4f5f6b;letter-spacing:.06px">67 634 357</div>
<div style="left:315.4px;top:674.0px;width:10.4px;height:10.4px;border-radius:2.2px;background:#e8ebf0;border:1px solid #dce1e7"></div>
<div style="left:340px;top:671.9px;height:14px;line-height:14px;font-size:9.5px;color:#5f707c;letter-spacing:-.3px">Среднее</div>
<div style="left:453.4px;top:672.6px;width:80px;height:14px;line-height:14px;text-align:center;font-size:9.6px;color:#4f5f6b;letter-spacing:-.35px">347 694</div>
<div style="left:563.0px;top:672.6px;width:80px;height:14px;line-height:14px;text-align:center;font-size:9.6px;color:#4f5f6b;letter-spacing:-.35px">99 546 433</div>
<div style="left:670.5px;top:672.6px;width:80px;height:14px;line-height:14px;text-align:center;font-size:9.6px;color:#4f5f6b;letter-spacing:-.35px">587 568 569</div>
<div style="left:775.3px;top:672.6px;width:80px;height:14px;line-height:14px;text-align:center;font-size:9.6px;color:#4f5f6b;letter-spacing:-.35px">3 049 574</div>
<div style="left:881.3px;top:672.6px;width:80px;height:14px;line-height:14px;text-align:center;font-size:9.6px;color:#4f5f6b;letter-spacing:-.35px">3 577 849</div>
<div style="left:989.2px;top:672.6px;width:80px;height:14px;line-height:14px;text-align:center;font-size:9.6px;color:#4f5f6b;letter-spacing:-.35px">5 464 564</div>
<div style="left:1100px;top:679.3px;width:20px;height:0;border-top:1px dotted #d3d8dc"></div>
<div style="left:1146.5px;top:672.0px;height:14px;line-height:14px;font-size:9.6px;color:#5f707c;letter-spacing:-.55px">2 123 453</div>
<div style="left:315.4px;top:694.5px;width:10.4px;height:10.4px;border-radius:2.2px;background:#e8ebf0;border:1px solid #dce1e7"></div>
<div style="left:340px;top:692.4px;height:14px;line-height:14px;font-size:9.5px;font-weight:bold;color:#3f4f5b;letter-spacing:-.3px">Итого</div>
<div style="left:453.4px;top:693.1px;width:80px;height:14px;line-height:14px;text-align:center;font-size:9.6px;font-weight:bold;color:#3f4f5b;letter-spacing:-.35px">2 085 740</div>
<div style="left:563.0px;top:693.1px;width:80px;height:14px;line-height:14px;text-align:center;font-size:9.6px;font-weight:bold;color:#3f4f5b;letter-spacing:-.35px">40 28 572</div>
<div style="left:670.5px;top:693.1px;width:80px;height:14px;line-height:14px;text-align:center;font-size:9.6px;font-weight:bold;color:#3f4f5b;letter-spacing:-.35px">56 756 756</div>
<div style="left:775.3px;top:693.1px;width:80px;height:14px;line-height:14px;text-align:center;font-size:9.6px;font-weight:bold;color:#3f4f5b;letter-spacing:-.35px">2 049 574</div>
<div style="left:881.3px;top:693.1px;width:80px;height:14px;line-height:14px;text-align:center;font-size:9.6px;font-weight:bold;color:#3f4f5b;letter-spacing:-.35px">54 686 585</div>
<div style="left:989.2px;top:693.1px;width:80px;height:14px;line-height:14px;text-align:center;font-size:9.6px;font-weight:bold;color:#3f4f5b;letter-spacing:-.35px">2 423 453</div>
<div style="left:1146.5px;top:693.1px;height:14px;line-height:14px;font-size:9.6px;font-weight:bold;color:#3f4f5b;letter-spacing:-.3px">5 645 656</div>
<div style="left:301px;top:700px;width:900px;height:6px;background:#f3f3f3"></div>
<div style="left:310px;top:699.3px;width:882px;height:1px;background:#d8dde1"></div>
<div style="left:309px;top:700.3px;width:884px;height:1px;background:#e9ebec"></div>
<div style="left:1185.3px;top:573px;width:4.6px;height:120.5px;border-radius:2.3px;background:#cfd2d4"></div>
<div style="left:1185.3px;top:573px;width:4.6px;height:25px;border-radius:2.3px;background:#a9c8e3"></div>
</div></div>
<div id="obar" style="position:absolute;left:240px;top:295px;width:3px;height:53px;background:#f3bd62"></div>
</body>
</html>
